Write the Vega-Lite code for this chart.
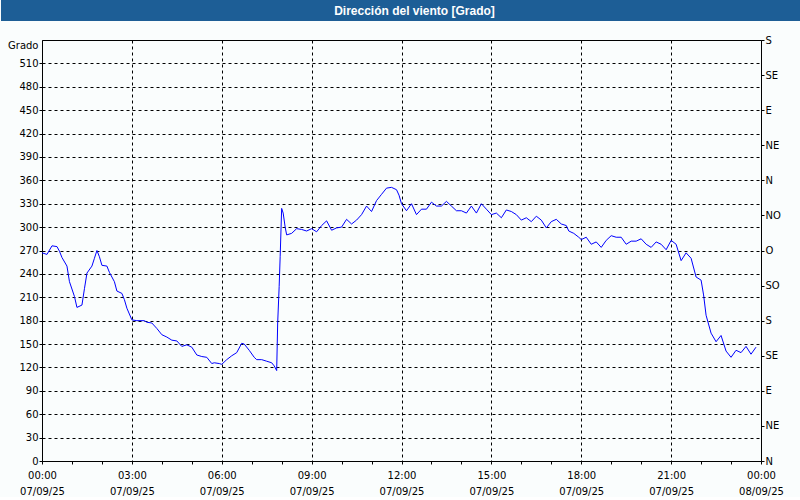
{
  "$schema": "https://vega.github.io/schema/vega-lite/v6.json",
  "padding": 0,
  "background": "#fafdfd",
  "spacing": 13,
  "config": {"font": "DejaVu Sans", "view": {"stroke": null}},
  "vconcat": [
    {
      "width": 759,
      "height": 21,
      "view": {"fill": "#1d5e96", "stroke": null},
      "data": {"values": [{"titulo": "Dirección del viento [Grado]"}]},
      "mark": {"type": "text", "color": "white", "fontWeight": "bold", "fontSize": 12, "font": "Liberation Sans", "baseline": "middle", "align": "center", "dx": -7},
      "encoding": {
        "text": {"field": "titulo"},
        "y": {
          "field": "titulo",
          "type": "nominal",
          "axis": {"labels": false, "ticks": false, "title": null, "domain": true, "translate": 0, "domainColor": "#1d5e96", "domainWidth": 82, "minExtent": 41, "maxExtent": 41}
        }
      }
    },
    {
      "width": 719,
      "height": 421,
      "view": {"stroke": "black", "strokeWidth": 1, "fill": "#fafdfd"},
      "data": {
        "values": [
          {"h": 0, "grado": 267}, {"h": 0.1667, "grado": 265}, {"h": 0.3333, "grado": 276}, {"h": 0.5, "grado": 275},
          {"h": 0.5833, "grado": 269}, {"h": 0.6667, "grado": 261}, {"h": 0.8333, "grado": 250}, {"h": 0.9167, "grado": 230},
          {"h": 1.0833, "grado": 211}, {"h": 1.1667, "grado": 197}, {"h": 1.3333, "grado": 200}, {"h": 1.4167, "grado": 221},
          {"h": 1.5, "grado": 241}, {"h": 1.6667, "grado": 250}, {"h": 1.75, "grado": 260}, {"h": 1.8333, "grado": 270},
          {"h": 1.9167, "grado": 262}, {"h": 2, "grado": 251}, {"h": 2.1667, "grado": 250}, {"h": 2.25, "grado": 242},
          {"h": 2.4167, "grado": 230}, {"h": 2.5, "grado": 218}, {"h": 2.6667, "grado": 215}, {"h": 2.75, "grado": 207},
          {"h": 2.8333, "grado": 196}, {"h": 3, "grado": 181}, {"h": 3.1667, "grado": 180}, {"h": 3.4167, "grado": 180},
          {"h": 3.5, "grado": 178}, {"h": 3.6667, "grado": 177}, {"h": 3.8333, "grado": 170}, {"h": 4, "grado": 162},
          {"h": 4.1667, "grado": 159}, {"h": 4.3333, "grado": 155}, {"h": 4.5, "grado": 154}, {"h": 4.6667, "grado": 147},
          {"h": 4.8333, "grado": 149}, {"h": 5, "grado": 146}, {"h": 5.1667, "grado": 136}, {"h": 5.3333, "grado": 134},
          {"h": 5.5, "grado": 133}, {"h": 5.6667, "grado": 125}, {"h": 5.75, "grado": 126}, {"h": 5.9167, "grado": 125},
          {"h": 6, "grado": 124}, {"h": 6.1667, "grado": 130}, {"h": 6.3333, "grado": 135}, {"h": 6.5, "grado": 139},
          {"h": 6.6667, "grado": 151}, {"h": 6.75, "grado": 150}, {"h": 6.9167, "grado": 142}, {"h": 7.0833, "grado": 133},
          {"h": 7.1667, "grado": 130}, {"h": 7.3333, "grado": 130}, {"h": 7.5, "grado": 128}, {"h": 7.6667, "grado": 126},
          {"h": 7.75, "grado": 122}, {"h": 7.8333, "grado": 116}, {"h": 7.8667, "grado": 177}, {"h": 7.9167, "grado": 224},
          {"h": 7.95, "grado": 262}, {"h": 8, "grado": 324}, {"h": 8.05, "grado": 318}, {"h": 8.1167, "grado": 300},
          {"h": 8.1667, "grado": 290}, {"h": 8.3333, "grado": 292}, {"h": 8.5, "grado": 298}, {"h": 8.6667, "grado": 297},
          {"h": 8.8333, "grado": 295}, {"h": 9, "grado": 298}, {"h": 9.1667, "grado": 294}, {"h": 9.3333, "grado": 302},
          {"h": 9.5, "grado": 308}, {"h": 9.6667, "grado": 296}, {"h": 9.8333, "grado": 299}, {"h": 10, "grado": 300},
          {"h": 10.1667, "grado": 310}, {"h": 10.3333, "grado": 304}, {"h": 10.5, "grado": 309}, {"h": 10.6667, "grado": 316},
          {"h": 10.8333, "grado": 327}, {"h": 11, "grado": 320}, {"h": 11.1667, "grado": 334}, {"h": 11.3333, "grado": 342},
          {"h": 11.5, "grado": 350}, {"h": 11.6667, "grado": 351}, {"h": 11.8333, "grado": 348}, {"h": 11.9167, "grado": 341},
          {"h": 12, "grado": 330}, {"h": 12.1667, "grado": 321}, {"h": 12.3333, "grado": 330}, {"h": 12.5, "grado": 316},
          {"h": 12.6667, "grado": 323}, {"h": 12.8333, "grado": 323}, {"h": 13, "grado": 332}, {"h": 13.1667, "grado": 327},
          {"h": 13.3333, "grado": 327}, {"h": 13.5, "grado": 333}, {"h": 13.6667, "grado": 327}, {"h": 13.8333, "grado": 321},
          {"h": 14, "grado": 321}, {"h": 14.1667, "grado": 318}, {"h": 14.3333, "grado": 327}, {"h": 14.5, "grado": 318},
          {"h": 14.6667, "grado": 330}, {"h": 14.8333, "grado": 323}, {"h": 15, "grado": 316}, {"h": 15.1667, "grado": 318},
          {"h": 15.3333, "grado": 312}, {"h": 15.5, "grado": 322}, {"h": 15.6667, "grado": 320}, {"h": 15.8333, "grado": 316},
          {"h": 16, "grado": 309}, {"h": 16.1667, "grado": 312}, {"h": 16.3333, "grado": 307}, {"h": 16.5, "grado": 314},
          {"h": 16.6667, "grado": 309}, {"h": 16.8333, "grado": 299}, {"h": 17, "grado": 307}, {"h": 17.1667, "grado": 310},
          {"h": 17.3333, "grado": 304}, {"h": 17.5, "grado": 302}, {"h": 17.5833, "grado": 295}, {"h": 17.75, "grado": 292},
          {"h": 17.9167, "grado": 287}, {"h": 18, "grado": 284}, {"h": 18.1667, "grado": 287}, {"h": 18.3333, "grado": 278},
          {"h": 18.5, "grado": 281}, {"h": 18.6667, "grado": 274}, {"h": 18.8333, "grado": 283}, {"h": 19, "grado": 289},
          {"h": 19.1667, "grado": 287}, {"h": 19.3333, "grado": 287}, {"h": 19.5, "grado": 278}, {"h": 19.6667, "grado": 282},
          {"h": 19.8333, "grado": 282}, {"h": 20, "grado": 285}, {"h": 20.1667, "grado": 278}, {"h": 20.3333, "grado": 274},
          {"h": 20.5, "grado": 281}, {"h": 20.6667, "grado": 278}, {"h": 20.8333, "grado": 271}, {"h": 21, "grado": 283},
          {"h": 21.1667, "grado": 278}, {"h": 21.3333, "grado": 257}, {"h": 21.5, "grado": 267}, {"h": 21.6667, "grado": 260},
          {"h": 21.8333, "grado": 236}, {"h": 22, "grado": 232}, {"h": 22.0833, "grado": 213}, {"h": 22.1667, "grado": 187},
          {"h": 22.3333, "grado": 164}, {"h": 22.5, "grado": 153}, {"h": 22.6667, "grado": 161}, {"h": 22.8333, "grado": 141},
          {"h": 23, "grado": 133}, {"h": 23.1667, "grado": 142}, {"h": 23.3333, "grado": 139}, {"h": 23.5, "grado": 147},
          {"h": 23.6667, "grado": 137}, {"h": 23.8333, "grado": 146}
        ]
      },
      "encoding": {
        "x": {
          "field": "h",
          "type": "quantitative",
          "scale": {"domain": [0, 24], "nice": false, "zero": false},
          "axis": {
            "title": null,
            "domain": false,
            "values": [0, 1, 2, 3, 4, 5, 6, 7, 8, 9, 10, 11, 12, 13, 14, 15, 16, 17, 18, 19, 20, 21, 22, 23, 24],
            "tickSize": 3,
            "tickColor": "black",
            "labelPadding": 6,
            "labelFontSize": 10,
            "labelColor": "black",
            "labelFlush": false,
            "labelOverlap": false,
            "labelLineHeight": 16,
            "labelExpr": "datum.value % 3 === 0 ? [(datum.value % 24 < 10 ? '0' : '') + (datum.value % 24) + ':00', datum.value < 24 ? '07/09/25' : '08/09/25'] : ''",
            "grid": true,
            "gridColor": "black",
            "gridDash": [3, 3],
            "gridOpacity": {"condition": {"test": "datum.value % 3 === 0", "value": 1}, "value": 0}
          }
        }
      },
      "layer": [
        {
          "mark": {"type": "line", "color": "#0000ff", "strokeWidth": 1},
          "encoding": {
            "y": {
              "field": "grado",
              "type": "quantitative",
              "scale": {"domain": [0, 540], "nice": false, "zero": true},
              "axis": {
                "orient": "left",
                "values": [0, 30, 60, 90, 120, 150, 180, 210, 240, 270, 300, 330, 360, 390, 420, 450, 480, 510],
                "domain": false,
                "tickSize": 3,
                "tickColor": "black",
                "labelPadding": 1,
                "labelFontSize": 10,
                "labelColor": "black",
                "grid": true,
                "gridColor": "black",
                "gridDash": [3, 3],
                "gridOpacity": 1,
                "minExtent": 41,
                "maxExtent": 41,
                "title": "Grado",
                "titleAngle": 0,
                "titleAlign": "right",
                "titleBaseline": "middle",
                "titleX": -4,
                "titleY": 5,
                "titleFontWeight": "normal",
                "titleFontSize": 10,
                "titleColor": "black"
              }
            }
          }
        },
        {
          "mark": {"type": "line", "opacity": 0},
          "encoding": {
            "y": {
              "field": "grado",
              "type": "quantitative",
              "axis": {
                "orient": "right",
                "values": [0, 45, 90, 135, 180, 225, 270, 315, 360, 405, 450, 495, 540],
                "labelExpr": "['N','NE','E','SE','S','SO','O','NO'][round(datum.value / 45) % 8]",
                "domain": false,
                "grid": false,
                "tickSize": 3,
                "tickColor": "black",
                "labelPadding": 1,
                "labelFontSize": 10,
                "labelColor": "black",
                "title": null
              }
            }
          }
        }
      ],
      "resolve": {"axis": {"y": "independent"}}
    }
  ]
}
